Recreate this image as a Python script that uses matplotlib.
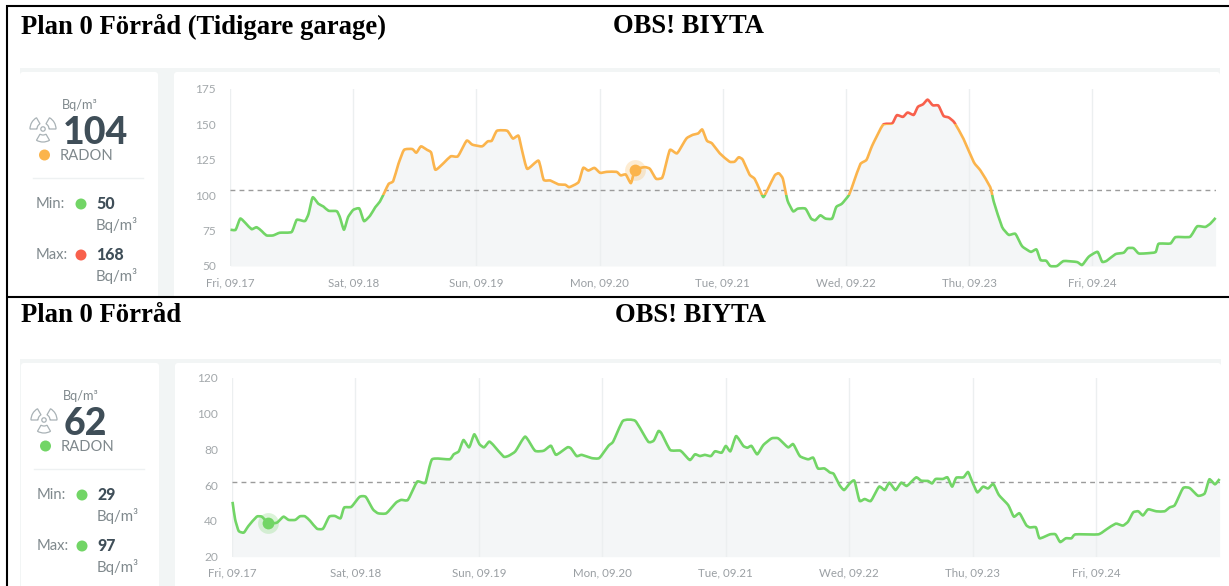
import matplotlib
matplotlib.use("Agg")
import numpy as np
import matplotlib.pyplot as plt
from matplotlib.path import Path
from matplotlib.patches import Rectangle, FancyBboxPatch, Wedge, Circle, PathPatch

# hours since Fri 09.17 00:00
hours_top = [0.1, 1.1, 2, 3.1, 4.2, 5.2, 6.2, 7.1, 8.4, 9.7, 12, 13, 14.6, 15.3, 16.1, 17.2, 18.2, 19.2, 20.8, 21.4,
             22.2, 23, 24, 25.2, 26.1, 27.3, 28.3, 29.2, 30.2, 30.9, 31.8, 32.8, 33.9, 35.5, 36.3, 37.2, 38.4, 39.2,
             40, 41.7, 43, 44.4, 46.1, 47.2, 49.1, 50.2, 51, 52, 54, 55.1, 56.2, 56.9, 57.9, 60.1, 61.1, 62.4, 64,
             65.3, 66.1, 67.9, 68.8, 69.8, 71, 72.1, 73.4, 75.3, 76.1, 77.1, 78.1, 78.9, 80.8, 81.8, 83, 84.2, 84.7,
             85.7, 87.1, 88.9, 90.2, 91.2, 92, 92.9, 93.9, 95.4, 97.3, 98.3, 99.1, 99.9, 101.2, 102.2, 103.1, 103.9,
             104.8, 106.1, 106.9, 107.7, 108.6, 109.7, 110.6, 112.1, 113.2, 114, 115, 116, 117.3, 118.1, 119.2, 120.6,
             121.5, 122.8, 124, 125.1, 127.2, 129, 129.9, 131.1, 132, 133.2, 134, 135, 135.9, 136.9, 138, 139, 140,
             141.1, 142.9, 144.9, 146.2, 148.1, 148.8, 150.4, 151.7, 153, 154.3, 156, 157.1, 157.9, 159, 159.8, 161.1,
             162.4, 165, 166, 167.3, 169, 169.9, 170.8, 172.5, 174.1, 174.9, 176, 177, 178.3, 180.3, 180.9, 183.2,
             184.2, 187, 188.4, 190, 191, 192]
radon_top = [75.6, 75.6, 83.5, 80, 76, 77.4, 74.6, 71.6, 71.6, 73.5, 74, 82.6, 81.7, 86.8, 98.5, 94, 92, 89, 88.7, 84.5,
             75.6, 84.5, 89.6, 90.6, 81.7, 85.6, 91.5, 95.5, 102.8, 108, 110, 122, 132, 132.6, 130, 134.5, 132, 130,
             118, 123, 127.5, 127.5, 138.5, 135.7, 134.5, 138, 138.5, 145.5, 145.5, 140, 142, 131.5, 118.6, 124.4,
             110.9, 110.4, 107.6, 107.4, 105.7, 109.2, 119.3, 117.4, 119.3, 115.8, 116.5, 116.5, 114, 114.6, 108.5,
             118, 119.8, 118.6, 111.6, 112.3, 118.6, 132, 129.6, 140, 142.7, 143.6, 146.4, 138.5, 136.6, 129.6, 123.7,
             123.7, 126.8, 125, 114.6, 111.6, 104.5, 98.7, 104.5, 113.9, 115.5, 111.6, 96.3, 88.6, 90.5, 90.5, 83.5,
             82.3, 85.8, 83.5, 83.5, 91.7, 94, 100.3, 109.2, 122, 125, 135, 149.7, 150.7, 156.5, 155.3, 158.4, 156.7,
             162.4, 164.2, 167.5, 163.5, 163.3, 156, 154.9, 151.4, 139.7, 123.3, 117.4, 105.7, 95.2, 77.6, 72, 72.7,
             64, 60, 61.7, 54.2, 53.7, 50, 50, 53.5, 52.8, 50.7, 56.6, 60, 53, 53.7, 58.4, 59.4, 62.6, 62.6, 58.9,
             58.9, 59.8, 65.7, 65.9, 70.4, 70.6, 78, 77.6, 80, 84]

hours_bottom = [0.1, 0.6, 1.3, 2.3, 3.2, 4.8, 5.8, 7, 8.7, 10, 11, 12.3, 13.2, 14.2, 15.2, 16.5, 17.7, 18.9, 20, 21.1,
                21.8, 23.2, 24.8, 26, 27.4, 28.4, 30, 31.9, 32.9, 34.2, 36, 37.6, 38.9, 42.3, 43.1, 44.1, 45, 46.1,
                47.1, 48.1, 49, 50, 50.8, 52.8, 53.8, 55.1, 57, 58.9, 60.6, 62, 63, 65.2, 65.9, 67, 68, 69.9, 71.4,
                73.2, 74.1, 76, 78.4, 80.9, 82, 82.9, 83.5, 85.2, 87.2, 89, 90, 91, 91.9, 93.1, 93.9, 95.2, 96, 96.9,
                98, 99.4, 100.2, 101, 102.1, 103.3, 104.9, 106.2, 108.1, 109.1, 110.4, 112, 113, 113.9, 115.2, 116.2,
                117, 118.1, 119, 120.1, 121, 122, 123, 124.2, 125.8, 126.9, 127.8, 129, 130.1, 131.2, 133, 134, 135.3,
                136.1, 136.8, 138.2, 139.1, 140, 140.8, 142.2, 143.1, 143.9, 144.9, 146, 147, 148, 149.1, 150.9, 152,
                153.1, 154.4, 155.1, 156.3, 157, 159, 160.1, 161, 162.1, 163.2, 164, 168.4, 170, 171.8, 173.2, 174.2,
                175.2, 176.2, 177.1, 178.1, 179.7, 181.3, 182.3, 183.3, 184.9, 186.2, 187.8, 189.1, 190, 191.1, 192]
radon_bottom = [50.7, 41, 34.4, 33.5, 37.2, 42.4, 42.4, 39, 39, 42.4, 40.6, 40.6, 42.6, 42.6, 40, 35.7, 35.7, 42.4,
                42.8, 41.5, 47.5, 47.9, 53.5, 53.5, 46.5, 44.3, 44.3, 50.3, 51.8, 51.8, 62, 61.4, 74.5, 74.5, 77.3,
                79, 85.3, 81.2, 88.5, 83, 81.2, 84.4, 82.5, 76, 76.5, 79, 87.2, 79.3, 79.3, 82.1, 77, 81.2, 80.6,
                76.3, 77, 75.2, 75.2, 82.1, 84.4, 96, 96, 84.4, 85, 90.3, 89, 79.7, 79.3, 74.1, 77.3, 76.3, 77, 76.3,
                79, 78.2, 82, 79, 87.5, 82, 81, 82, 77.3, 82.5, 86.2, 86.2, 81.2, 83, 76.3, 74.5, 75.4, 69.4, 69.4,
                67.2, 66.3, 60.1, 57.3, 61, 62.5, 51.3, 52.3, 51.2, 59.2, 57.3, 61.4, 57.3, 61.4, 59.6, 64.4, 62.5,
                62.4, 61, 63.5, 63.5, 64.4, 59.2, 64.2, 64.4, 67.4, 62, 56, 59.2, 58.2, 60.7, 54.5, 48.9, 42.4, 44.3,
                37.7, 36.4, 36.4, 30.3, 32.5, 32.5, 28.2, 30.3, 30.3, 32.5, 32.5, 35.3, 38.5, 37.4, 39.6, 44.8, 45.4,
                43.1, 46.5, 45.4, 45.4, 47.6, 48.9, 58.4, 58.4, 54.1, 55.4, 63.3, 60.5, 63.5]

day_hours = [0, 24, 48, 72, 96, 120, 144, 168]
day_labels = ["Fri, 09.17", "Sat, 09.18", "Sun, 09.19", "Mon, 09.20", "Tue, 09.21", "Wed, 09.22", "Thu, 09.23", "Fri, 09.24"]
yticks_top = [50, 75, 100, 125, 150, 175]
yticks_bottom = [20, 40, 60, 80, 100, 120]

GREEN = "#72d566"
ORANGE = "#fbb44c"
RED = "#f8604c"
W, H = 1229, 586

plt.rcParams["font.family"] = ["Lato", "DejaVu Sans"]
fig = plt.figure(figsize=(W / 100, H / 100), dpi=100, facecolor="white")

# whole-figure layer in pixels for cards, frame and text
bg = fig.add_axes([0, 0, 1, 1])
bg.set_xlim(0, W)
bg.set_ylim(H, 0)
bg.axis("off")


def axes_px(x0, y0, x1, y1):
    ax = fig.add_axes([x0 / W, 1 - y1 / H, (x1 - x0) / W, (y1 - y0) / H])
    ax.patch.set_visible(False)
    return ax


def card(x0, y0, x1, y1):
    bg.add_patch(FancyBboxPatch((x0 + 3, y0 + 3), x1 - x0 - 6, y1 - y0 - 3,
                                boxstyle="round,pad=3", fc="white", ec="none", zorder=2))


def curve_path(hours, radon):
    # bezier through the read points, low tension so plateaus stay flat
    p = np.column_stack([hours, radon])
    d = np.gradient(p, axis=0) / 6
    verts = [p[0]]
    for i in range(len(p) - 1):
        verts += [p[i] + d[i], p[i + 1] - d[i + 1], p[i + 1]]
    codes = [Path.MOVETO] + [Path.CURVE4] * (len(verts) - 1)
    return Path(verts, codes)


def side_panel(dx, dy, value, dot, vmin, dot_min, vmax, dot_max):
    dark = "#3f4e58"
    grey = "#7f888c"
    bg.text(80 + dx, 105 + dy, "Bq/m³", color=grey, fontsize=9.2, ha="center", va="center", zorder=3)
    bg.text(63 + dx, 133 + dy, value, color=dark, fontsize=27, fontweight="black", ha="left", va="center", zorder=3)
    bg.text(60 + dx, 156 + dy, "RADON", color=grey, fontsize=10.6, ha="left", va="center", zorder=3)
    bg.add_patch(Circle((44.5 + dx, 155 + dy), 5.5, fc=dot, ec="none", zorder=3))
    bg.plot([33 + dx, 143 + dx], [177.5 + dy, 177.5 + dy], color="#eef1f2", lw=1, zorder=3)
    # radon icon
    for a in [(60, 120), (180, 240), (300, 360)]:
        bg.add_patch(Wedge((43 + dx, 129 + dy), 13, a[0], a[1], width=7, fc="none", ec="#a9b2b6", lw=0.9, zorder=3))
    bg.add_patch(Circle((43 + dx, 129 + dy), 2.2, fc="none", ec="#a9b2b6", lw=0.9, zorder=3))
    rows = [("Min:", vmin, dot_min, 204), ("Max:", vmax, dot_max, 255)]
    for name, val, col, y in rows:
        bg.text(36 + dx, y + dy, name, color=grey, fontsize=10.6, ha="left", va="center", zorder=3)
        bg.add_patch(Circle((81 + dx, y + dy), 5.5, fc=col, ec="none", zorder=3))
        bg.text(96 + dx, y + dy, val, color=dark, fontsize=11.4, fontweight="black", ha="left", va="center", zorder=3)
        bg.text(96 + dx, y + 21 + dy, "Bq/m³", color=grey, fontsize=10.8, ha="left", va="center", zorder=3)


def chart(box, hours, radon, yticks, avg, mark_x, mark_y, mark_col, bands):
    ax = axes_px(*box)
    ax.set_xlim(0, 192)
    ax.set_ylim(yticks[0], yticks[-1])
    ax.fill_between(hours, yticks[0], radon, color="#f4f6f7", lw=0, zorder=1)
    ax.set_xticks(day_hours)
    ax.set_xticklabels(day_labels, fontsize=8.3, color="#9a9fa3")
    ax.set_yticks(yticks)
    ax.set_yticklabels(yticks, fontsize=8.6, color="#a3a8ab")
    ax.tick_params(length=0)
    ax.tick_params(axis="x", pad=8)
    ax.tick_params(axis="y", pad=10)
    ax.grid(axis="x", color="#eceff0", lw=1, zorder=2)
    for spine in ("top", "right", "bottom", "left"):
        ax.spines[spine].set_visible(False)
    ax.axhline(avg, color="#9b9b9b", lw=1, ls=(0, (3.5, 3)), zorder=3)
    # same curve drawn once per colour band, clipped to the band
    for lo, hi, col in bands:
        patch = PathPatch(curve_path(hours, radon), fc="none", ec=col, lw=1.9, joinstyle="round", zorder=4)
        ax.add_patch(patch)
        patch.set_clip_path(Rectangle((-5, lo), 205, hi - lo, transform=ax.transData))
    ax.plot([mark_x], [mark_y], "o", ms=15, color=mark_col, alpha=0.25, mec="none", zorder=5)
    ax.plot([mark_x], [mark_y], "o", ms=8.5, color=mark_col, mec="none", zorder=6)


# grey backing and cards
bg.add_patch(Rectangle((20, 68), 1200, 228, fc="#f2f5f5", ec="none", zorder=1))
card(20, 72, 158, 296)
card(174, 72, 1220, 296)
bg.add_patch(Rectangle((20, 359), 1201, 227, fc="#f2f5f5", ec="none", zorder=1))
card(21, 363, 159, 590)
card(175, 363, 1221, 590)

# black frame
bg.plot([6, W], [5.5, 5.5], color="black", lw=1.5, zorder=8, solid_capstyle="butt")
bg.plot([6, W], [296.5, 296.5], color="black", lw=1.5, zorder=8, solid_capstyle="butt")
bg.plot([6.5, 6.5], [5, H], color="black", lw=1.5, zorder=8, solid_capstyle="butt")

serif = dict(family="Liberation Serif", fontweight="bold", color="black", fontsize=19.2, va="center", ha="left", zorder=9)
bg.text(21, 26.5, "Plan 0 Förråd (Tidigare garage)", **serif)
bg.text(613, 26.5, "OBS! BIYTA", **serif)
bg.text(21, 316, "Plan 0 Förråd", **serif)
bg.text(615, 316, "OBS! BIYTA", **serif)

side_panel(0, 0, "104", ORANGE, "50", GREEN, "168", RED)
side_panel(1, 291, "62", GREEN, "29", GREEN, "97", GREEN)

bands_top = [(-100, 100, GREEN), (100, 150, ORANGE), (150, 400, RED)]
bands_bottom = [(-100, 400, GREEN)]
chart((230, 89, 1215.6, 266), hours_top, radon_top, yticks_top, 104, 78.9, 118, ORANGE, bands_top)
chart((232, 378, 1219.6, 556.7), hours_bottom, radon_bottom, yticks_bottom, 62, 7, 39, GREEN, bands_bottom)

fig.savefig("out.png", dpi=100)
